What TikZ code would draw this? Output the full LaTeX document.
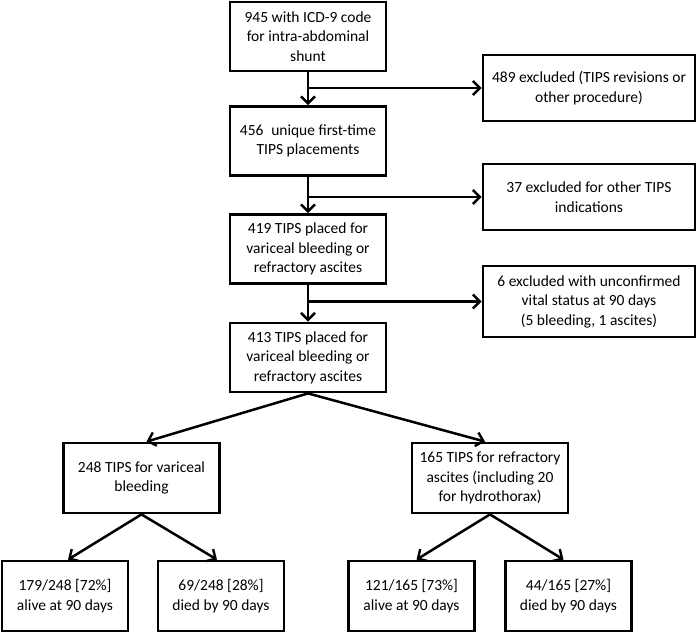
\documentclass[tikz,border=0pt]{standalone}
\usepackage{fontspec}
\setmainfont{Carlito}
\usetikzlibrary{arrows.meta}

\begin{document}
\begin{tikzpicture}[
    x=1pt, y=-1pt,
    every node/.style={font=\fontsize{15.5}{19.5}\selectfont},
    box/.style={draw, line width=2.8pt, align=center, inner sep=0pt,
                minimum width=156pt, minimum height=69pt},
    exbox/.style={box, minimum width=212pt, minimum height=66pt},
    outbox/.style={box, minimum width=126pt, minimum height=70pt},
    arr/.style={-{Straight Barb[length=7pt,width=14pt,line width=2.4pt]}, line width=2.5pt},
]
\useasboundingbox (0,0) rectangle (697,632);

\node[box]    (icd)   at (308, 36.5)  {945 with ICD-9 code\\for intra-abdominal\\shunt};
\node[box]    (uniq)  at (308, 141)   {456\enspace unique first-time\\TIPS placements};
\node[box]    (plc)   at (308, 249)   {419 TIPS placed for\\variceal bleeding or\\refractory ascites};
\node[box]    (conf)  at (308, 357.5) {413 TIPS placed for\\variceal bleeding or\\refractory ascites};
\node[exbox]  (exrev) at (589, 88)    {489 excluded (TIPS revisions or\\other procedure)};
\node[exbox]  (exind) at (589, 197)   {37 excluded for other TIPS\\indications};
\node[exbox, minimum height=71pt] (exvit) at (589, 301.5) {6 excluded with unconfirmed\\vital status at 90 days\\(5 bleeding, 1 ascites)};
\node[box, minimum height=70pt] (bleed) at (141.5, 478) {248 TIPS for variceal\\bleeding};
\node[box, minimum height=70pt] (asc)   at (490, 478)   {165 TIPS for refractory\\ascites (including 20\\for hydrothorax)};
\node[outbox] (bleedok)  at (65, 596)    {179/248 [72\%]\\alive at 90 days};
\node[outbox] (bleeddie) at (221, 596)   {69/248 [28\%]\\died by 90 days};
\node[outbox] (ascok)    at (411.5, 596) {121/165 [73\%]\\alive at 90 days};
\node[outbox] (ascdie)   at (568.5, 596) {44/165 [27\%]\\died by 90 days};

% main column
\draw[arr] (icd) -- (uniq);
\draw[arr] (uniq) -- (plc);
\draw[arr] (plc) -- (conf);
% exclusions
\draw[arr] (icd.south |- exrev.west) -- (exrev.west);
\draw[arr] (uniq.south |- exind.west) -- (exind.west);
\draw[arr] (plc.south |- exvit.west) -- (exvit.west);
% split by indication
\draw[arr] (conf.south) -- ([xshift=5pt]bleed.north);
\draw[arr] (conf.south) -- ([xshift=-5pt]asc.north);
\draw[arr] (bleed.south) -- ([xshift=3pt]bleedok.north);
\draw[arr] (bleed.south) -- ([xshift=-4pt]bleeddie.north);
\draw[arr] (asc.south) -- ([xshift=5pt]ascok.north);
\draw[arr] (asc.south) -- ([xshift=-5pt]ascdie.north);
\end{tikzpicture}
\end{document}
